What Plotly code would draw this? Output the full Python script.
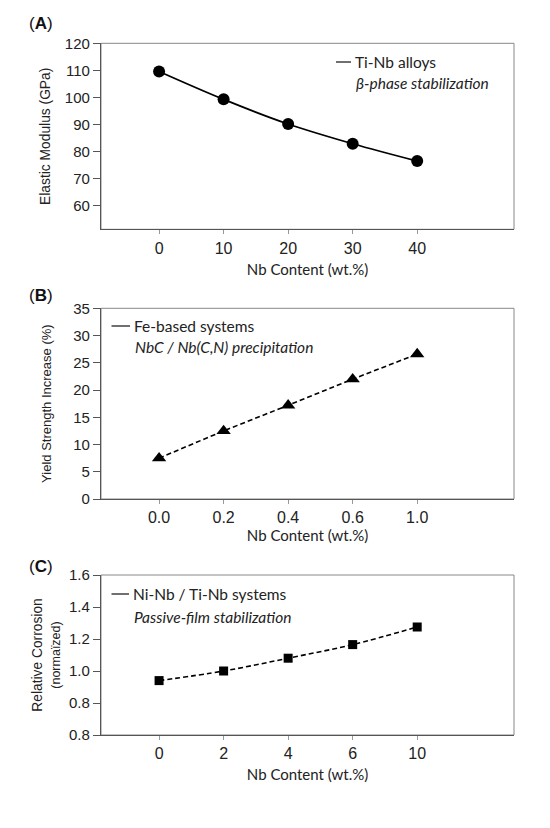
import plotly.graph_objects as go

# panel A: Ti-Nb alloys
nb_a = ["0", "10", "20", "30", "40"]
modulus = [109.6, 99.3, 90.2, 82.9, 76.5]

# panel B: Fe-based systems
nb_b = ["0.0", "0.2", "0.4", "0.6", "1.0"]
yield_inc = [7.5, 12.5, 17.2, 22.0, 26.6]

# panel C: Ni-Nb / Ti-Nb systems
nb_c = ["0", "2", "4", "6", "10"]
corrosion = [0.94, 1.00, 1.08, 1.165, 1.275]
corr_tickvals = [0.6, 0.8, 1.0, 1.2, 1.4, 1.6]
corr_ticktext = ["0.8", "0.8", "1.0", "1.2", "1.4", "1.6"]

W, H = 550, 828
YTICKFONT = dict(family="Liberation Sans, Arial", size=15, color="#222")
XTICKFONT = dict(family="Liberation Sans, Arial", size=16, color="#222")
LABFONT = "Lato, Noto Sans, sans-serif"

fig = go.Figure()

fig.add_trace(go.Scatter(x=nb_a, y=modulus, mode="lines+markers",
                         line=dict(color="black", width=1.8, shape="spline"),
                         marker=dict(symbol="circle", size=12, color="black"),
                         xaxis="x", yaxis="y", showlegend=False))
fig.add_trace(go.Scatter(x=nb_b, y=yield_inc, mode="lines+markers",
                         line=dict(color="black", width=1.6, dash="5px,3px"),
                         marker=dict(symbol="triangle-up", size=12.5, color="black"),
                         xaxis="x2", yaxis="y2", showlegend=False))
fig.add_trace(go.Scatter(x=nb_c, y=corrosion, mode="lines+markers",
                         line=dict(color="black", width=1.6, dash="5px,3px", shape="spline"),
                         marker=dict(symbol="square", size=9, color="black"),
                         xaxis="x3", yaxis="y3", showlegend=False))

def py(px):
    return 1 - px / H

xdom = [101 / W, 514 / W]
panels = [
    # (top px, bottom px)
    (43.3, 229.3),
    (308.3, 499),
    (575, 735),
]
xstand = [8, 5, 8]

def xaxis_cfg(i):
    return dict(type="category", range=[-0.9, 5.5], domain=xdom, anchor=f"y{i + 1 if i else ''}",
                showline=True, linecolor="#555", linewidth=1.3, ticks="outside",
                ticklen=4, tickcolor="#999", tickfont=XTICKFONT, showgrid=False,
                zeroline=False, automargin=False,
                title=dict(text="Nb Content (wt.%)", standoff=xstand[i],
                           font=dict(family=LABFONT, size=15, color="#222")))

ycommon = dict(showline=True, linecolor="#555", linewidth=1.3, ticks="outside",
               ticklen=7, tickcolor="#555", tickfont=YTICKFONT, showgrid=False,
               zeroline=False, automargin=False)

def ytitle_font(size):
    return dict(family="Liberation Sans, Arial", size=size, color="#222")

fig.update_layout(
    width=W, height=H, margin=dict(l=0, r=0, t=0, b=0, autoexpand=False),
    paper_bgcolor="white", plot_bgcolor="white",
    xaxis=xaxis_cfg(0), xaxis2=xaxis_cfg(1), xaxis3=xaxis_cfg(2),
    yaxis=dict(ycommon, domain=[py(panels[0][1]), py(panels[0][0])], anchor="x",
               range=[51.3, 120], tickvals=[60, 70, 80, 90, 100, 110, 120],
               title=dict(text="Elastic Modulus (GPa)", standoff=10, font=ytitle_font(13.8))),
    yaxis2=dict(ycommon, domain=[py(panels[1][1]), py(panels[1][0])], anchor="x2",
                range=[0, 35], dtick=5,
                title=dict(text="Yield Strength Increase (%)", standoff=18,
                           font=ytitle_font(13))),
    yaxis3=dict(ycommon, domain=[py(panels[2][1]), py(panels[2][0])], anchor="x3",
                range=[0.6, 1.6], tickvals=corr_tickvals, ticktext=corr_ticktext,
                title=dict(text="Relative Corrosion<br><span style='font-size:12.5px'>(normaïzed)</span>",
                           standoff=5, font=ytitle_font(13.8))),
)

# lighter frame on top/right
for xr, yr in [("x domain", "y domain"), ("x2 domain", "y2 domain"), ("x3 domain", "y3 domain")]:
    fig.add_shape(type="rect", xref=xr, yref=yr, x0=0, x1=1, y0=0, y1=1,
                  line=dict(color="#888", width=1), layer="below")

# panel labels
for lbl, ypx in [("A", 23), ("B", 295), ("C", 566)]:
    fig.add_annotation(xref="paper", yref="paper", x=27 / W, y=py(ypx),
                       xanchor="left", yanchor="middle", showarrow=False,
                       text=f"(<b>{lbl}</b>)",
                       font=dict(family="Liberation Sans, Arial", size=17, color="#111"))

# in-plot legends
legends = [
    (336, 351, 62, 83, "Ti-Nb alloys", "β-phase stabilization"),
    (111.5, 130, 326, 347, "Fe-based systems", "NbC / Nb(C,N) precipitation"),
    (111.5, 129, 594, 617, "Ni-Nb / Ti-Nb systems", "Passive-film stabilization"),
]
for x0, x1, y1px, y2px, name, note in legends:
    fig.add_shape(type="line", xref="paper", yref="paper", x0=x0 / W, x1=x1 / W,
                  y0=py(y1px), y1=py(y1px), line=dict(color="#222", width=1.3))
    fig.add_annotation(xref="paper", yref="paper", x=(x1 + 2) / W, y=py(y1px),
                       xanchor="left", yanchor="middle", showarrow=False, text=name,
                       font=dict(family=LABFONT, size=15.5, color="#222"))
    fig.add_annotation(xref="paper", yref="paper", x=(x1 + 3) / W, y=py(y2px),
                       xanchor="left", yanchor="middle", showarrow=False,
                       text=f"<i>{note}</i>",
                       font=dict(family=LABFONT, size=15.5, color="#222"))

fig.write_html("out.html", config=dict(displayModeBar=False),
               post_script="document.body.style.margin='0';")
